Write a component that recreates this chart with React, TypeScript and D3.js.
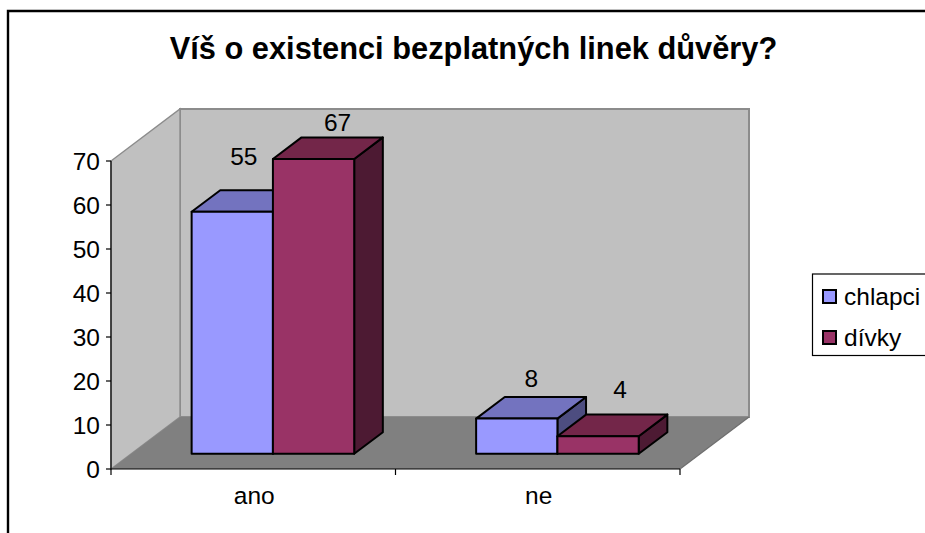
import React from "react";
import * as d3 from "d3";

const categories = ["ano", "ne"];
const seriesNames = ["chlapci", "dívky"];
const chlapci = [55, 8];
const divky = [67, 4];
const yTicks = [0, 10, 20, 30, 40, 50, 60, 70];
const title = "Víš o existenci bezplatných linek důvěry?";

const frontColors = ["#9999FF", "#993366"];
const topColors = ["#7373BF", "#732649"];
const sideColors = ["#4D4D80", "#4D1A33"];

// Label nudges relative to each bar's front-top centre [dx, dy baseline]
const labelNudge = [
  [[11.5, -46.5], [14.5, -32]],
  [[24, -28], [22, -38]],
];

const font = "'Liberation Sans', Arial, sans-serif";
const W = 925, H = 533;
const x0 = 111, x1 = 680, yBase = 469, yTop = 161;
const depthX = 69, depthY = 52;
const barDepthStart = 0.285, barDepthEnd = 0.7;
const labelSize = 24.5;

const y = d3.scaleLinear().domain([0, 70]).range([0, yBase - yTop]);
const xCat = d3.scaleBand<string>().domain(categories).range([x0, x1]);
// gap of 150% of the bar width, split either side of the pair
const barW = xCat.bandwidth() / 3.5;
const xSeries = d3.scaleBand<string>().domain(seriesNames).range([0, barW * 2]);
const poly = d3.line();
const P = (pts: [number, number][]) => poly(pts) + "Z";

export default function App() {
  const series = [chlapci, divky];
  const fx = depthX * barDepthStart, fy = -depthY * barDepthStart - 0.4;
  const dx = depthX * (barDepthEnd - barDepthStart), dy = -depthY * (barDepthEnd - barDepthStart);
  const bars: React.ReactNode[] = [];
  const labels: React.ReactNode[] = [];
  categories.forEach((cat, c) => {
    seriesNames.forEach((name, s) => {
      const v = series[s][c];
      const left = xCat(cat)! + xCat.bandwidth() / 2 - barW + xSeries(name)! + fx;
      const right = left + xSeries.bandwidth();
      const bottom = yBase + fy;
      const top = bottom - y(v);
      const st = { stroke: "#000", strokeWidth: 2, strokeLinejoin: "round" as const };
      bars.push(
        <g key={cat + name}>
          <path d={P([[right, bottom], [right + dx, bottom + dy], [right + dx, top + dy], [right, top]])} fill={sideColors[s]} {...st} />
          <path d={P([[left, top], [left + dx, top + dy], [right + dx, top + dy], [right, top]])} fill={topColors[s]} {...st} />
          <rect x={left} y={top} width={right - left} height={bottom - top} fill={frontColors[s]} {...st} />
        </g>
      );
      const [nx, ny] = labelNudge[s][c];
      labels.push(
        <text key={"l" + cat + name} x={(left + right) / 2 + nx} y={top + ny} textAnchor="middle" fontSize={labelSize} fill="#000">{v}</text>
      );
    });
  });
  return (
    <svg width={W} height={H} style={{ position: "absolute", left: 0, top: 0, display: "block" }} fontFamily={font}>
      <rect width={W} height={H} fill="#fff" />
      <path d={`M8 ${H + 5}V11H${W + 5}`} fill="none" stroke="#000" strokeWidth={2.4} />
      <text x={473.5} y={59} textAnchor="middle" fontSize={30.8} fontWeight="bold" fill="#000">{title}</text>

      <rect x={x0 + depthX} y={yTop - depthY} width={x1 - x0} height={yBase - yTop} fill="#C0C0C0" stroke="#8C8C8C" strokeWidth={2} />
      <path d={P([[x0, yTop], [x0 + depthX, yTop - depthY], [x0 + depthX, yBase - depthY], [x0, yBase]])} fill="#C0C0C0" stroke="#8C8C8C" strokeWidth={1.4} />
      <path d={P([[x0, yBase], [x1, yBase], [x1 + depthX, yBase - depthY], [x0 + depthX, yBase - depthY]])} fill="#808080" />
      <line x1={x1} y1={yBase} x2={x1 + depthX} y2={yBase - depthY} stroke="#6E6E6E" strokeWidth={1.2} />

      <line x1={x0} y1={yTop} x2={x0} y2={yBase} stroke="#000" strokeWidth={1.2} />
      <line x1={x0} y1={yBase} x2={x1} y2={yBase} stroke="#000" strokeWidth={1.2} />
      {yTicks.map((t) => (
        <g key={t}>
          <line x1={x0 - 5} x2={x0} y1={yBase - y(t)} y2={yBase - y(t)} stroke="#000" strokeWidth={1.2} />
          <text x={x0 - 11} y={yBase - y(t) + 8.5} textAnchor="end" fontSize={labelSize} fill="#000">{t}</text>
        </g>
      ))}
      {[x0, xCat(categories[1])!, x1].map((t) => (
        <line key={t} x1={t} x2={t} y1={yBase} y2={yBase + 6} stroke="#000" strokeWidth={1.2} />
      ))}
      {categories.map((c) => (
        <text key={c} x={xCat(c)! + xCat.bandwidth() / 2 + 1} y={504} textAnchor="middle" fontSize={labelSize} fill="#000">{c}</text>
      ))}
      {bars}
      {labels}

      <rect x={812.5} y={274} width={130} height={81.5} fill="#fff" stroke="#000" strokeWidth={1.2} />
      {seriesNames.map((n, i) => (
        <g key={n}>
          <rect x={823} y={290 + i * 41} width={13} height={13} fill={frontColors[i]} stroke="#000" strokeWidth={2} />
          <text x={844} y={304.5 + i * 41} fontSize={labelSize} fill="#000">{n}</text>
        </g>
      ))}
    </svg>
  );
}
